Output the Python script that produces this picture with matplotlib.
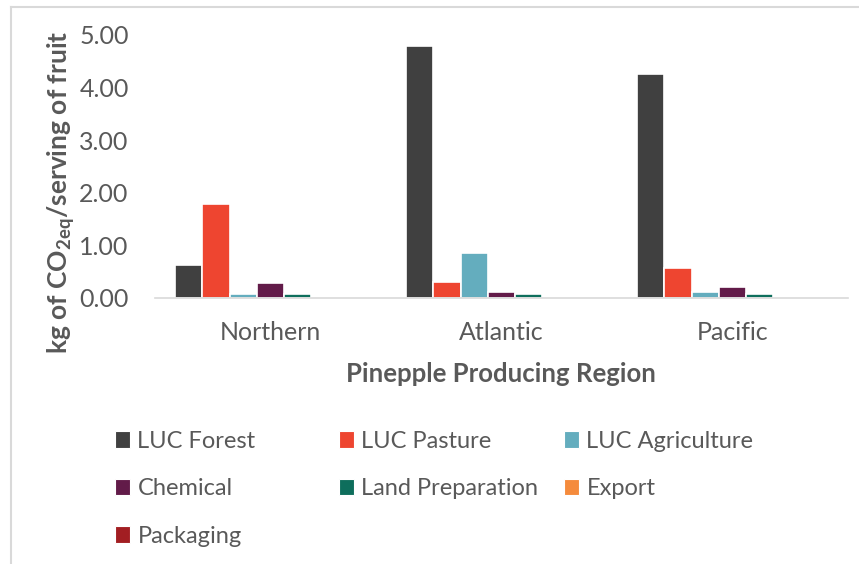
import numpy as np
import matplotlib
matplotlib.use("Agg")
import matplotlib.pyplot as plt
from matplotlib.lines import Line2D
from matplotlib.patches import Patch

plt.rcParams['font.family'] = ['Lato', 'DejaVu Sans']
plt.rcParams['mathtext.fontset'] = 'custom'
plt.rcParams['mathtext.rm'] = 'Lato'
plt.rcParams['mathtext.bf'] = 'Lato:bold'

# emissions per serving, by region
regions = ["Northern", "Atlantic", "Pacific"]
series = ["LUC Forest", "LUC Pasture", "LUC Agriculture", "Chemical",
          "Land Preparation", "Export", "Packaging"]
luc_forest = [0.61, 4.80, 4.25]
luc_pasture = [1.79, 0.30, 0.57]
luc_agriculture = [0.06, 0.84, 0.11]
chemical = [0.27, 0.11, 0.20]
land_prep = [0.06, 0.06, 0.06]
export = [0.0, 0.0, 0.0]
packaging = [0.0, 0.0, 0.0]
values = [luc_forest, luc_pasture, luc_agriculture, chemical,
          land_prep, export, packaging]
colors = ["#404040", "#EE4530", "#64ADBE", "#621B49",
          "#0E6E5C", "#F58B3C", "#A21E22"]

txt = "#595959"
W, H = 859, 564
fig = plt.figure(figsize=(W / 100, H / 100), dpi=100)
ax = fig.add_axes([155 / W, 1 - 297.5 / H, 693 / W, 262.5 / H])

x = np.arange(len(regions))
slot = 27.25 / 231
for i, (name, vals, c) in enumerate(zip(series, values, colors)):
    ax.bar(x + (i - 3) * slot, vals, width=slot, color=c,
           edgecolor="white", linewidth=1.2, label=name)

ax.set_xlim(-0.5, 2.5)
ax.set_ylim(0, 5)
ax.set_yticks(np.arange(0, 5.01, 1))
ax.set_yticklabels([f"{v:.2f}" for v in np.arange(0, 5.01, 1)])
ax.set_xticks(x)
ax.set_xticklabels(regions)
ax.tick_params(axis="y", length=0, pad=19, labelsize=18, labelcolor=txt)
ax.tick_params(axis="x", length=0, pad=17, labelsize=18, labelcolor=txt)
for s in ["top", "right", "left"]:
    ax.spines[s].set_visible(False)
ax.spines["bottom"].set_color("#D9D9D9")
ax.spines["bottom"].set_linewidth(1.2)

fig.text(501 / W, 1 - 374 / H, "Pinepple Producing Region", ha="center",
         va="center", fontsize=18.5, fontweight="bold", color=txt)
fig.text(61 / W, 1 - 192 / H, r"kg of CO$_{\mathbf{2eq}}$/serving of fruit",
         ha="center", va="center", rotation=90, fontsize=19,
         fontweight="bold", color=txt)

# legend laid out in three fixed-width columns
handles = [Patch(facecolor=c, edgecolor="white", linewidth=0.8) for c in colors]
columns = [[0, 3, 6], [1, 4], [2, 5]]
col_x = [115, 339, 564]
for cx, idx in zip(col_x, columns):
    fig.legend([handles[k] for k in idx], [series[k] for k in idx],
               loc="upper left", bbox_to_anchor=(cx / W, 1 - 431 / H),
               frameon=False, fontsize=17, labelcolor=txt,
               handlelength=0.65, handleheight=0.7, handletextpad=0.3,
               labelspacing=1.12, borderpad=0, borderaxespad=0)

# outer chart frame
fig.add_artist(Line2D([11 / W, 11 / W], [0, 1 - 7 / H], color="#D9D9D9",
                      lw=1.5, transform=fig.transFigure))
fig.add_artist(Line2D([11 / W, 1], [1 - 7 / H, 1 - 7 / H], color="#D9D9D9",
                      lw=1.5, transform=fig.transFigure))

fig.savefig("out.png", dpi=100)
